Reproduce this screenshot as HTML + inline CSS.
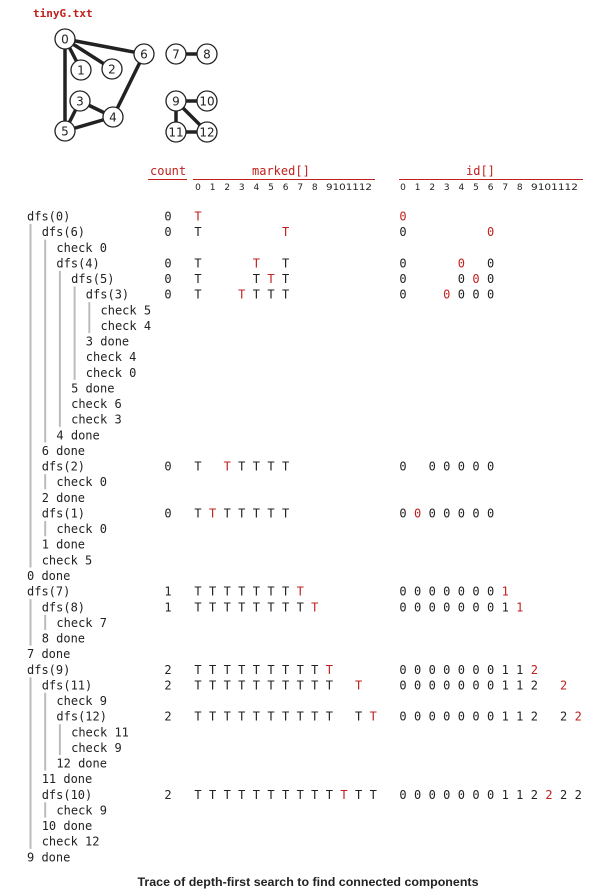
<!DOCTYPE html>
<html><head><meta charset="utf-8">
<style>
html,body{margin:0;padding:0;background:#fff;}
svg{display:block;}
.m{font-family:"DejaVu Sans Mono","Liberation Mono",monospace;font-size:12px;fill:#222;}
.r{fill:#c0201e;}
.ix{font-family:"DejaVu Sans","Liberation Sans",sans-serif;font-size:9px;fill:#222;}
.n{font-family:"DejaVu Sans","Liberation Sans",sans-serif;font-size:12px;fill:#222;text-anchor:middle;}
</style></head>
<body>
<svg id="s" width="601" height="896" xmlns="http://www.w3.org/2000/svg">
<text x="33" y="17" font-family="DejaVu Sans Mono,Liberation Mono,monospace" font-size="11" font-weight="bold" fill="#c0201e">tinyG.txt</text>
<g stroke="#222" stroke-width="3.5">
<line x1="65" y1="39" x2="144" y2="54"/>
<line x1="65" y1="39" x2="81" y2="70"/>
<line x1="65" y1="39" x2="112" y2="69"/>
<line x1="65" y1="39" x2="65" y2="131"/>
<line x1="144" y1="54" x2="113" y2="117"/>
<line x1="80" y1="101" x2="113" y2="117"/>
<line x1="80" y1="101" x2="65" y2="131"/>
<line x1="65" y1="131" x2="113" y2="117"/>
<line x1="176" y1="54" x2="207" y2="54"/>
<line x1="176" y1="101" x2="207" y2="101"/>
<line x1="176" y1="101" x2="176" y2="132"/>
<line x1="176" y1="101" x2="207" y2="132"/>
<line x1="176" y1="132" x2="207" y2="132"/>
</g>
<g id="nodes" fill="#fff" stroke="#222" stroke-width="1.3"></g>
<g id="g"></g>
<text x="150" y="175" class="m r">count</text>
<line x1="148" y1="179.5" x2="187" y2="179.5" stroke="#c0201e" stroke-width="1"/>
<text x="252" y="175" class="m r">marked[]</text>
<line x1="193" y1="179.5" x2="375" y2="179.5" stroke="#c0201e" stroke-width="1"/>
<text x="466" y="175" class="m r">id[]</text>
<line x1="399" y1="179.5" x2="583" y2="179.5" stroke="#c0201e" stroke-width="1"/>
<text x="308" y="886" text-anchor="middle" font-family="Liberation Sans,sans-serif" font-size="12" font-weight="bold" fill="#222" textLength="341" lengthAdjust="spacingAndGlyphs">Trace of depth-first search to find connected components</text>
</svg>
<script>
var NS="http://www.w3.org/2000/svg",s=document.getElementById('g'),nd=document.getElementById('nodes');
function el(t,a,txt,p){var e=document.createElementNS(NS,t);for(var k in a)e.setAttribute(k,a[k]);if(txt!=null)e.textContent=txt;(p||s).appendChild(e);return e;}
var N=[[0,65,39],[1,81,70],[2,112,69],[6,144,54],[7,176,54],[8,207,54],[3,80,101],[4,113,117],[5,65,131],[9,176,101],[10,207,101],[11,176,132],[12,207,132]];
N.forEach(function(n){el('circle',{cx:n[1],cy:n[2],r:10},null,nd);el('text',{x:n[1],y:n[2]+4.5,'class':'n'},String(n[0]));});
for(var k=0;k<9;k++){el('text',{x:198+14.6*k,y:190,'class':'ix','text-anchor':'middle'},String(k));el('text',{x:403+14.6*k,y:190,'class':'ix','text-anchor':'middle'},String(k));}
el('text',{x:326,y:190,'class':'ix',textLength:46,lengthAdjust:'spacingAndGlyphs'},'9101112');
el('text',{x:531,y:190,'class':'ix',textLength:47,lengthAdjust:'spacingAndGlyphs'},'9101112');
var L=[["dfs(0)",0],["dfs(6)",1],["check 0",2],["dfs(4)",2],["dfs(5)",3],["dfs(3)",4],["check 5",5],["check 4",5],["3 done",4],["check 4",4],["check 0",4],["5 done",3],["check 6",3],["check 3",3],["4 done",2],["6 done",1],["dfs(2)",1],["check 0",2],["2 done",1],["dfs(1)",1],["check 0",2],["1 done",1],["check 5",1],["0 done",0],["dfs(7)",0],["dfs(8)",1],["check 7",2],["8 done",1],["7 done",0],["dfs(9)",0],["dfs(11)",1],["check 9",2],["dfs(12)",2],["check 11",3],["check 9",3],["12 done",2],["11 done",1],["dfs(10)",1],["check 9",2],["10 done",1],["check 12",1],["9 done",0]];
function Y(i){return 216+15.63*i;}
L.forEach(function(l,i){el('text',{x:27+14.7*l[1],y:Y(i)+4.5,'class':'m'},l[0]);});
var st=[];
L.forEach(function(l,i){
 if(l[0].indexOf('dfs')==0)st.push([i,l[1]]);
 else if(l[0].indexOf('done')>0){var o=st.pop();var x=30.5+14.7*o[1];el('line',{x1:x,y1:Y(o[0])+8,x2:x,y2:Y(i)-8,stroke:'#bbb','stroke-width':2});}
});
var D=[
[0,0,[0],0,{0:0},0],
[1,0,[0,6],6,{0:0,6:0},6],
[3,0,[0,4,6],4,{0:0,4:0,6:0},4],
[4,0,[0,4,5,6],5,{0:0,4:0,5:0,6:0},5],
[5,0,[0,3,4,5,6],3,{0:0,3:0,4:0,5:0,6:0},3],
[16,0,[0,2,3,4,5,6],2,{0:0,2:0,3:0,4:0,5:0,6:0},-1],
[19,0,[0,1,2,3,4,5,6],1,{0:0,1:0,2:0,3:0,4:0,5:0,6:0},1],
[24,1,[0,1,2,3,4,5,6,7],7,{0:0,1:0,2:0,3:0,4:0,5:0,6:0,7:1},7],
[25,1,[0,1,2,3,4,5,6,7,8],8,{0:0,1:0,2:0,3:0,4:0,5:0,6:0,7:1,8:1},8],
[29,2,[0,1,2,3,4,5,6,7,8,9],9,{0:0,1:0,2:0,3:0,4:0,5:0,6:0,7:1,8:1,9:2},9],
[30,2,[0,1,2,3,4,5,6,7,8,9,11],11,{0:0,1:0,2:0,3:0,4:0,5:0,6:0,7:1,8:1,9:2,11:2},11],
[32,2,[0,1,2,3,4,5,6,7,8,9,11,12],12,{0:0,1:0,2:0,3:0,4:0,5:0,6:0,7:1,8:1,9:2,11:2,12:2},12],
[37,2,[0,1,2,3,4,5,6,7,8,9,10,11,12],10,{0:0,1:0,2:0,3:0,4:0,5:0,6:0,7:1,8:1,9:2,10:2,11:2,12:2},10]];
D.forEach(function(d){
 var y=Y(d[0])+4.5;
 el('text',{x:168,y:y,'class':'m','text-anchor':'middle'},String(d[1]));
 d[2].forEach(function(k){el('text',{x:198+14.6*k,y:y,'class':'m'+(k==d[3]?' r':''),'text-anchor':'middle'},'T');});
 for(var k in d[4]){el('text',{x:403+14.6*k,y:y,'class':'m'+(k==d[5]?' r':''),'text-anchor':'middle'},String(d[4][k]));}
});
</script>
</body></html>
